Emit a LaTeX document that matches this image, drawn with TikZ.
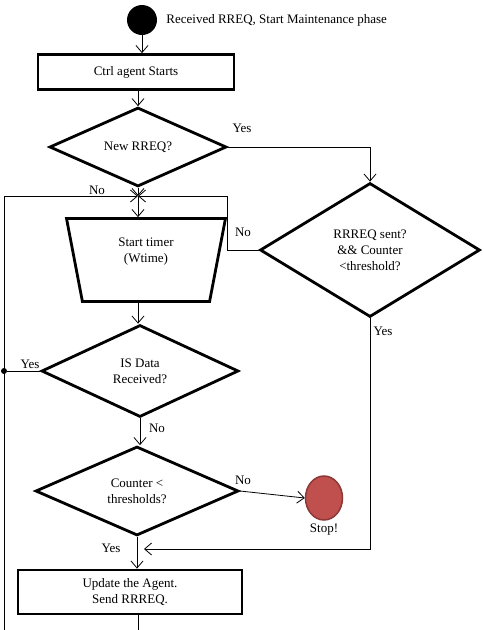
\documentclass[tikz,border=0pt]{standalone}
\usepackage{fontspec}
\setmainfont{Liberation Serif}
\usetikzlibrary{positioning,arrows.meta,shapes.geometric}
\definecolor{stopred}{RGB}{192,80,77}
\definecolor{stopedge}{RGB}{140,56,54}

\begin{document}
\begin{tikzpicture}[
  x=1pt, y=-1pt, >={Straight Barb[length=7pt,width=12pt]},
  every node/.style={font=\fontsize{13}{16}\selectfont},
  conn/.style={line width=0.8pt},
  blk/.style={draw, line width=2.8pt, rectangle, align=center, inner sep=0pt},
  dec/.style={draw, line width=2.8pt, diamond, align=center, inner sep=0pt},
  trap/.style={draw, line width=2.8pt, trapezium, trapezium stretches=true, shape border rotate=180,
    trapezium left angle=81, trapezium right angle=81, align=center, inner sep=0pt},
  endnode/.style={ellipse, draw=stopedge, fill=stopred, line width=1.5pt},
  dot/.style={circle, fill, inner sep=0pt, minimum size=6pt},
  lbl/.style={inner sep=0pt},
]
  \useasboundingbox (0,0) rectangle (484,630);
  % nodes
  \node[circle, fill, inner sep=0pt, minimum size=30pt] (start) at (142,20) {};
  \node[lbl, right=9pt of start] (startlbl) {Received RREQ, Start Maintenance phase};
  \node[blk, minimum width=196pt, minimum height=35pt] (ctrl) at (136,72) {Ctrl agent Starts};
  \node[dec, minimum width=177pt, minimum height=78pt] (d1) at (138,147) {New RREQ?};
  \node[dec, minimum width=220pt, minimum height=134pt] (d2) at (370,250) {RRREQ sent?\\\&\& Counter\\<threshold?};
  \coordinate (jn) at (138,196);
  \coordinate (nobend) at (227,196);
  \coordinate (lft) at (4,630);
  \node[trap, minimum width=160pt, minimum height=83pt, text depth=19pt] (tim) at (146,260) {Start timer\\(Wtime)};
  \node[dec, minimum width=197pt, minimum height=92pt] (d3) at (140,371) {IS Data\\Received?};
  \node[dec, minimum width=203pt, minimum height=89pt] (d4) at (137,491) {Counter <\\thresholds?};
  \node[endnode, minimum width=37pt, minimum height=44pt] (stop) at (324,498) {};
  \node[lbl, below=3pt of stop] (stoplbl) {Stop!};
  \node[blk, minimum width=224pt, minimum height=44pt] (upd) at (130,592) {Update the Agent.\\Send RRREQ.};
  \coordinate (merge) at (144,549);
  \node[dot] (jdot) at (d3.west -| lft) {};
  % connectors
  \draw[conn,->] (start.south) -- (start.south |- ctrl.north);
  \draw[conn,->] (ctrl.south -| jn) -- (jn |- d1.north);
  \draw[conn,->] (d1.east) -| (d2.north);
  \draw[conn,->] (d1.south) -- (jn);
  \draw[conn,->] (d2.west) -- (d2.west -| nobend) |- (jn);
  \draw[conn,->] (lft) |- (jn);
  \draw[conn,->] (jn) -- (jn |- tim.north);
  \draw[conn,->] (tim.south -| jn) -- (jn |- d3.north);
  \draw[conn] (d3.west) -- (jdot);
  \draw[conn,->] (d3.south) -- (d3.south |- d4.north);
  \draw[conn,->] (d4.east) -- (stop.west);
  \draw[conn,->] (d4.south) -- (d4.south |- upd.north);
  \draw[conn,->] (d2.south) |- (merge);
  \draw[conn] (upd.south -| jn) -- (jn |- lft);
  % labels
  \node[lbl] (y1) at (242,128) {Yes};
  \node[lbl] (n1) at (97,190) {No};
  \node[lbl] (n2) at (243,232) {No};
  \node[lbl] (y2) at (383,331) {Yes};
  \node[lbl] (y3) at (30,364) {Yes};
  \node[lbl] (n3) at (157,428) {No};
  \node[lbl] (n4) at (243,480) {No};
  \node[lbl] (y4) at (111,548) {Yes};
\end{tikzpicture}
\end{document}
